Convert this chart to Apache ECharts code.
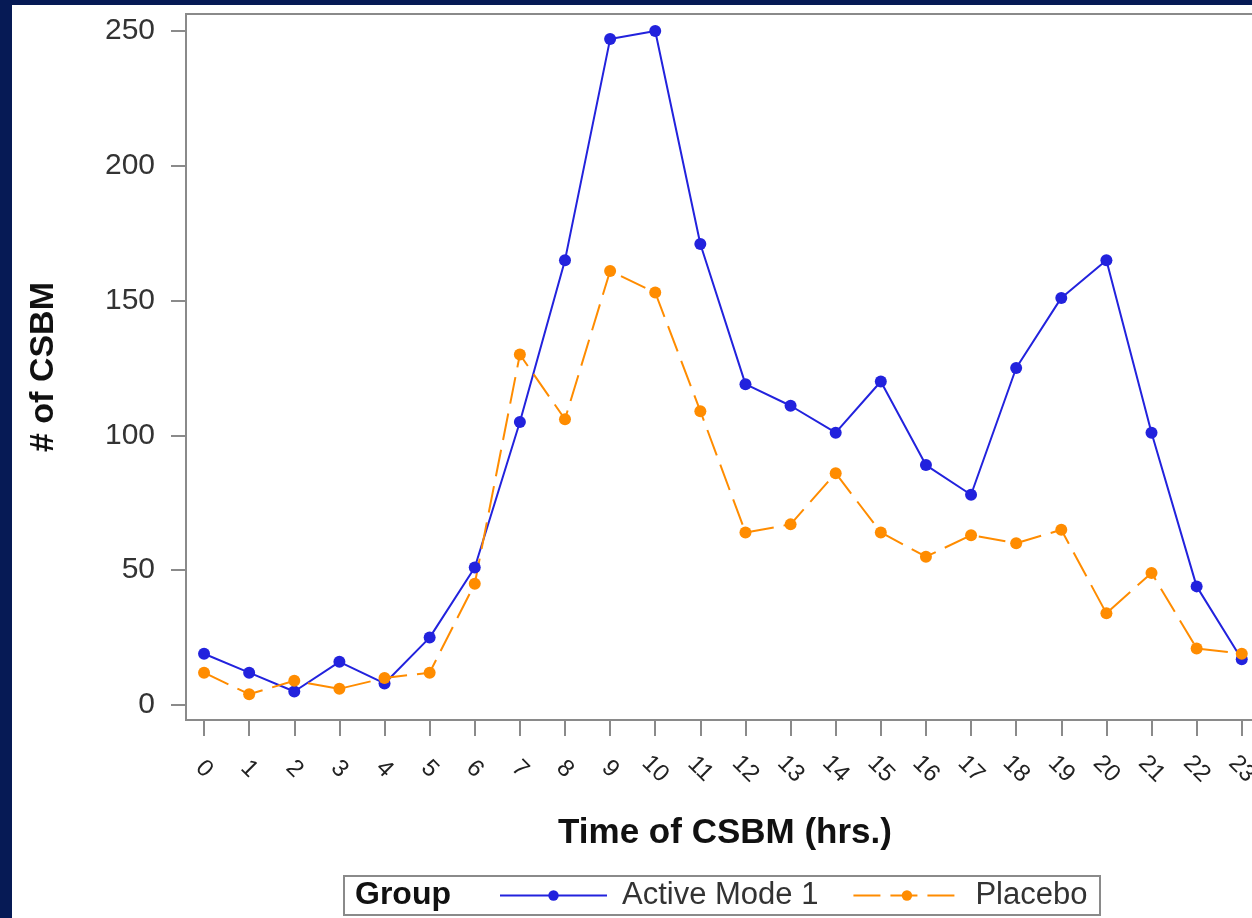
<!DOCTYPE html>
<html>
<head>
<meta charset="utf-8">
<script src="https://cdn.jsdelivr.net/npm/echarts@6/dist/echarts.min.js"></script>
<style>
html,body{margin:0;padding:0;width:1252px;height:918px;overflow:hidden;background:#061a55;}
#main{position:absolute;left:12px;top:5px;width:1260px;height:913px;background:#ffffff;}
</style>
</head>
<body>
<div id="main"></div>
<script>
const hours = [0,1,2,3,4,5,6,7,8,9,10,11,12,13,14,15,16,17,18,19,20,21,22,23];
const activeMode1 = [19,12,5,16,8,25,51,105,165,247,250,171,119,111,101,120,89,78,125,151,165,101,44,17];
const placebo = [12,4,9,6,10,12,45,130,106,161,153,109,64,67,86,64,55,63,60,65,34,49,21,19];
const yTicks = [0,50,100,150,200,250];
const seriesNames = ['Active Mode 1','Placebo'];

const FONT = '"Liberation Sans", Arial, sans-serif';
const chart = echarts.init(document.getElementById('main'));

function pairs(vals){ return hours.map((h,i)=>[h, vals[i]]); }

chart.setOption({
  animation:false,
  backgroundColor:'#ffffff',
  grid:{left:174, top:9, width:1073.8, height:706, show:true, borderColor:'#8a8a8a', borderWidth:2, backgroundColor:'transparent'},
  xAxis:{
    type:'value', min:-0.4, max:23.4,
    axisLine:{show:true, onZero:false, lineStyle:{color:'#8a8a8a', width:2}},
    axisTick:{show:true, length:16, customValues:hours, lineStyle:{color:'#8a8a8a', width:2}},
    axisLabel:{customValues:hours, rotate:-45, align:'center', verticalAlign:'middle', margin:49,
      fontFamily:FONT, fontSize:24, color:'#222', formatter:v=>String(v)},
    splitLine:{show:false}
  },
  yAxis:{
    type:'value', min:-5.564, max:256.31,
    axisLine:{show:true, onZero:false, lineStyle:{color:'#8a8a8a', width:2}},
    axisTick:{show:true, length:15, customValues:yTicks, lineStyle:{color:'#8a8a8a', width:2}},
    axisLabel:{customValues:yTicks, margin:31, fontFamily:FONT, fontSize:30, color:'#333', formatter:v=>String(v)},
    splitLine:{show:false}
  },
  legend:{
    left:482, top:870, itemWidth:107, itemHeight:13, itemGap:34,
    data:seriesNames,
    textStyle:{fontFamily:FONT, fontSize:31, color:'#333', padding:[0,0,0,10]}
  },
  graphic:[
    {type:'rect', shape:{x:332, y:871, width:756, height:39}, style:{fill:'none', stroke:'#8a8a8a', lineWidth:2}, z:0},
    {type:'text', x:343, y:890, style:{text:'Group', font:'bold 32px '+FONT, fill:'#111', textAlign:'left', textVerticalAlign:'middle'}},
    {type:'text', x:713, y:828, style:{text:'Time of CSBM (hrs.)', font:'bold 35px '+FONT, fill:'#111', textAlign:'center', textVerticalAlign:'middle'}},
    {type:'text', x:32, y:362, rotation:Math.PI/2, style:{text:'# of CSBM', font:'bold 34px '+FONT, fill:'#111', textAlign:'center', textVerticalAlign:'middle'}}
  ],
  series:[
    {name:seriesNames[0], type:'line', data:pairs(activeMode1), symbol:'circle', symbolSize:12,
      itemStyle:{color:'#2222dd'}, lineStyle:{color:'#2222dd', width:2}},
    {name:seriesNames[1], type:'line', data:pairs(placebo), symbol:'circle', symbolSize:12,
      itemStyle:{color:'#ff8c00'}, lineStyle:{color:'#ff8c00', width:2, type:[27,10]}}
  ]
});
</script>
</body>
</html>
